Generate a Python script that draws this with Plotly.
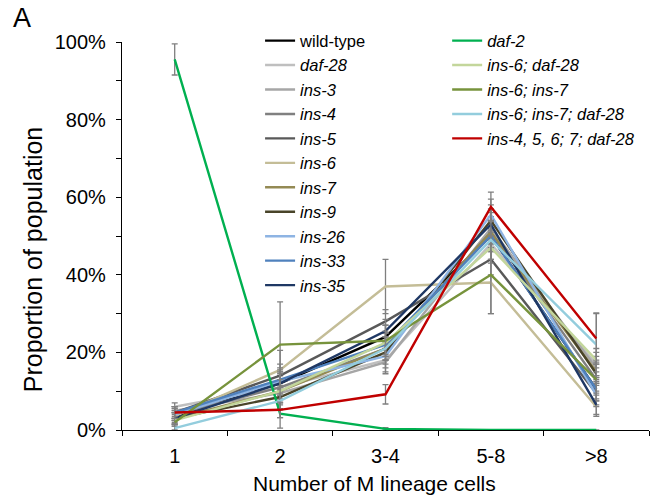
import plotly.graph_objects as go

categories = ["1", "2", "3-4", "5-8", ">8"]

series_names = [
    "wild-type", "<i>daf-28</i>", "<i>ins-3</i>", "<i>ins-4</i>", "<i>ins-5</i>",
    "<i>ins-6</i>", "<i>ins-7</i>", "<i>ins-9</i>", "<i>ins-26</i>", "<i>ins-33</i>",
    "<i>ins-35</i>", "<i>daf-2</i>", "<i>ins-6; daf-28</i>", "<i>ins-6; ins-7</i>",
    "<i>ins-6; ins-7; daf-28</i>", "<i>ins-4, 5, 6; 7; daf-28</i>",
]

wild_type = [3.5, 12, 24, 50, 10.5]
daf_28 = [6, 11, 18, 48, 17]
ins_3 = [5, 9.5, 17.5, 52, 16]
ins_4 = [4, 11, 21, 51, 13]
ins_5 = [4.5, 14, 28, 44, 9.5]
ins_6 = [3.5, 15.5, 37, 38, 6]
ins_7 = [3, 10, 21, 51, 15]
ins_9 = [3, 8.5, 20, 54, 14.5]
ins_26 = [4, 12.5, 19, 55.5, 9]
ins_33 = [4.5, 13, 22, 50, 10.5]
ins_35 = [3, 12, 25.5, 53, 6.5]
daf_2 = [95.5, 4.2, 0.3, 0, 0]
ins_6_daf_28 = [2.5, 10, 22.5, 47, 18]
ins_6_ins_7 = [2, 22, 23, 40, 13]
ins_6_ins_7_daf_28 = [0.5, 7.5, 21, 49, 22]
ins_4567_daf_28 = [4.5, 5.2, 9.2, 57.5, 23.6]

err_wild_type = [1.5, 3, 3, 3.5, 3]
err_daf_28 = [1, 3, 3, 4, 3]
err_ins_3 = [1, 3, 3, 4, 3]
err_ins_4 = [1.5, 3, 3, 4, 3]
err_ins_5 = [1.5, 3, 3, 4, 3]
err_ins_6 = [1, 5, 7, 8, 2]
err_ins_7 = [1.5, 3, 3, 4, 3]
err_ins_9 = [1.5, 3, 3, 4, 3]
err_ins_26 = [1.5, 3, 3, 4, 3]
err_ins_33 = [1.5, 3, 3, 4, 3]
err_ins_35 = [1.5, 3, 3, 4, 3]
err_daf_2 = [4, 1, 0.3, 0, 0]
err_ins_6_daf_28 = [1, 3, 3, 4, 3]
err_ins_6_ins_7 = [1, 11, 4, 10, 4]
err_ins_6_ins_7_daf_28 = [0.5, 7, 3, 5, 8]
err_ins_4567_daf_28 = [1.5, 2, 2.5, 3.8, 6.6]

values = [wild_type, daf_28, ins_3, ins_4, ins_5, ins_6, ins_7, ins_9, ins_26,
          ins_33, ins_35, daf_2, ins_6_daf_28, ins_6_ins_7, ins_6_ins_7_daf_28,
          ins_4567_daf_28]
errors = [err_wild_type, err_daf_28, err_ins_3, err_ins_4, err_ins_5, err_ins_6,
          err_ins_7, err_ins_9, err_ins_26, err_ins_33, err_ins_35, err_daf_2,
          err_ins_6_daf_28, err_ins_6_ins_7, err_ins_6_ins_7_daf_28,
          err_ins_4567_daf_28]
colors = ["#000000", "#BFBFBF", "#A6A6A6", "#808080", "#595959", "#C4BD97",
          "#948A54", "#494429", "#8EB4E3", "#4F81BD", "#1F3864", "#00B050",
          "#C3D69B", "#77933C", "#93CDDD", "#C00000"]
legend_ids = ["legend"] * 11 + ["legend2"] * 5

FONT = "Liberation Sans, Arial, sans-serif"

fig = go.Figure()
for name, vals, errs, col, lg in zip(series_names, values, errors, colors, legend_ids):
    fig.add_trace(go.Scatter(
        x=categories, y=vals, name=name, mode="lines",
        line=dict(color=col, width=2.4),
        error_y=dict(type="data", array=errs, visible=True,
                     color="#7F7F7F", thickness=1.3, width=3),
        legend=lg, cliponaxis=False,
    ))

fig.update_layout(
    width=666, height=500,
    margin=dict(l=122, r=17, t=42, b=70, autoexpand=False),
    paper_bgcolor="white", plot_bgcolor="white",
    font=dict(family=FONT, color="#000000"),
    showlegend=True,
    legend=dict(x=0.262, y=1.048, xanchor="left", yanchor="top",
                bgcolor="rgba(0,0,0,0)", font=dict(size=16.5, family=FONT),
                tracegroupgap=0, maxheight=480),
    legend2=dict(x=0.617, y=1.048, xanchor="left", yanchor="top",
                 bgcolor="rgba(0,0,0,0)", font=dict(size=16.5, family=FONT),
                 tracegroupgap=0, maxheight=480),
    xaxis=dict(
        type="category", range=[-0.5, 4.5], showline=True, linecolor="#000000",
        linewidth=1.2, ticks="outside", tickson="boundaries", ticklen=5,
        tickcolor="#000000", showgrid=False, zeroline=False,
        tickfont=dict(size=20, family=FONT), ticklabelstandoff=8,
    ),
    yaxis=dict(
        range=[0, 100], showline=True, linecolor="#000000", linewidth=1.2,
        ticks="outside", ticklen=5, tickcolor="#000000", dtick=20,
        ticksuffix="%", showgrid=False, zeroline=False,
        tickfont=dict(size=20, family=FONT), ticklabelstandoff=6,
        minor=dict(dtick=10, ticks="outside", ticklen=5, tickcolor="#000000"),
    ),
    annotations=[
        dict(text="Proportion of population", x=-0.169, y=0.44, xref="paper",
             yref="paper", xanchor="center", yanchor="middle", textangle=-90,
             showarrow=False, font=dict(size=25, family=FONT)),
        dict(text="Number of M lineage cells", x=0.48, y=-0.139, xref="paper",
             yref="paper", xanchor="center", yanchor="middle", showarrow=False,
             font=dict(size=21, family=FONT)),
        dict(text="A", x=-0.19, y=1.061, xref="paper", yref="paper",
             xanchor="center", yanchor="middle", showarrow=False,
             font=dict(size=27, family=FONT)),
    ],
)

fig.write_html("out.html", config={"displayModeBar": False},
               post_script="document.body.style.margin='0';")
